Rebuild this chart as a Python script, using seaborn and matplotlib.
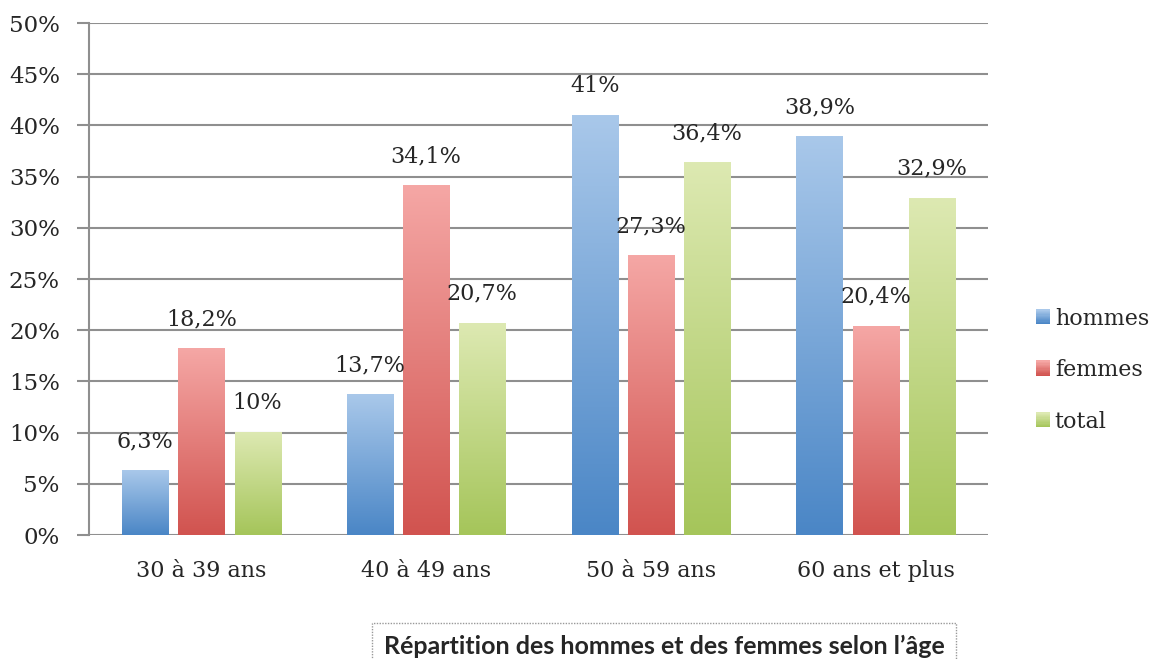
import numpy as np
import pandas as pd
import seaborn as sns
import matplotlib.pyplot as plt
from matplotlib.colors import LinearSegmentedColormap, to_rgb
from matplotlib.legend_handler import HandlerBase
from matplotlib.patches import Patch, Rectangle

# données
categories = ['30 à 39 ans', '40 à 49 ans', '50 à 59 ans', '60 ans et plus']
series = ['hommes', 'femmes', 'total']
hommes = [6.3, 13.7, 41, 38.9]
femmes = [18.2, 34.1, 27.3, 20.4]
total = [10, 20.7, 36.4, 32.9]

# couleurs (haut clair -> bas foncé)
grad = {
    'hommes': ('#a9c8ea', '#4a86c6'),
    'femmes': ('#f5a7a5', '#d1534f'),
    'total': ('#dde9b2', '#a5c55a'),
}
txt_color = '#262626'
serif = 'DejaVu Serif'

df = pd.DataFrame({
    'age': categories * 3,
    'serie': [s for s in series for _ in categories],
    'val': hommes + femmes + total,
})

fig = plt.figure(figsize=(11.58, 6.59), dpi=100)
ax = fig.add_axes([89 / 1158, 1 - 535 / 659, 899 / 1158, 512 / 659])

palette = {s: grad[s][1] for s in series}
sns.barplot(data=df, x='age', y='val', hue='serie', order=categories,
            hue_order=series, palette=palette, width=0.75, gap=0.18,
            legend=False, ax=ax, zorder=3)

# remplacer les barres par un dégradé vertical
bars = list(ax.patches)
for i, p in enumerate(bars):
    s = series[i // len(categories)]
    cmap = LinearSegmentedColormap.from_list(s, [grad[s][1], grad[s][0]])
    x0, y0 = p.get_x(), p.get_y()
    w, h = p.get_width(), p.get_height()
    p.set_visible(False)
    img = np.linspace(0, 1, 256).reshape(-1, 1)
    ax.imshow(img, cmap=cmap, extent=[x0, x0 + w, y0, y0 + h],
              origin='lower', aspect='auto', zorder=3)
    lab = ('%g' % h).replace('.', ',') + '%'
    ax.annotate(lab, (x0 + w / 2, h), xytext=(0, 21), textcoords='offset points',
                ha='center', va='center', fontsize=16, family=serif,
                color=txt_color, zorder=4)
ax.set_xlim(-0.5, 3.5)
ax.set_ylim(0, 50)

ax.set_yticks(np.arange(0, 51, 5))
ax.set_yticklabels([f'{v}%' for v in range(0, 51, 5)])
ax.grid(axis='y', color='#8f8f8f', linewidth=1.5, zorder=0)
ax.set_axisbelow(True)
for s in ['top', 'right', 'bottom']:
    ax.spines[s].set_visible(False)
ax.spines['left'].set_color('#8f8f8f')
ax.spines['left'].set_linewidth(1.5)
ax.tick_params(axis='y', length=9, width=1.5, color='#8f8f8f', pad=12,
               labelsize=16.5, labelcolor=txt_color)
ax.tick_params(axis='x', length=0, pad=18, labelsize=16, labelcolor=txt_color)
for t in ax.get_xticklabels() + ax.get_yticklabels():
    t.set_family(serif)
ax.set_xlabel('')
ax.set_ylabel('')


# légende avec carrés en dégradé
class GradHandler(HandlerBase):
    def create_artists(self, legend, orig, xd, yd, width, height, fontsize, trans):
        top, bot = [np.array(to_rgb(c)) for c in orig.grad]
        n = 12
        arts = []
        for k in range(n):
            f = k / (n - 1)
            c = bot * (1 - f) + top * f
            r = Rectangle((-xd, -yd + height * k / n), width, height / n + 0.3,
                          facecolor=c, edgecolor='none', transform=trans)
            arts.append(r)
        return arts


handles = []
for s in series:
    hp = Patch(facecolor=grad[s][1])
    hp.grad = grad[s]
    handles.append(hp)
ax.legend(handles, series, loc='center left', bbox_to_anchor=(1.031, 0.322),
          frameon=False, handlelength=0.65, handleheight=0.65, handletextpad=0.2,
          labelspacing=1.33, handler_map={Patch: GradHandler()},
          prop={'family': serif, 'size': 16}, labelcolor=txt_color)

# titre encadré
fig.text(664 / 1158, 1 - 646 / 659, 'Répartition des hommes et des femmes selon l’âge',
         ha='center', va='center', fontsize=18, fontweight='bold', family='Lato',
         color=txt_color,
         bbox=dict(boxstyle='square,pad=0.45', facecolor='white', edgecolor='#999999',
                   linestyle=(0, (1, 1)), linewidth=1))

fig.savefig('out.png', dpi=100)
